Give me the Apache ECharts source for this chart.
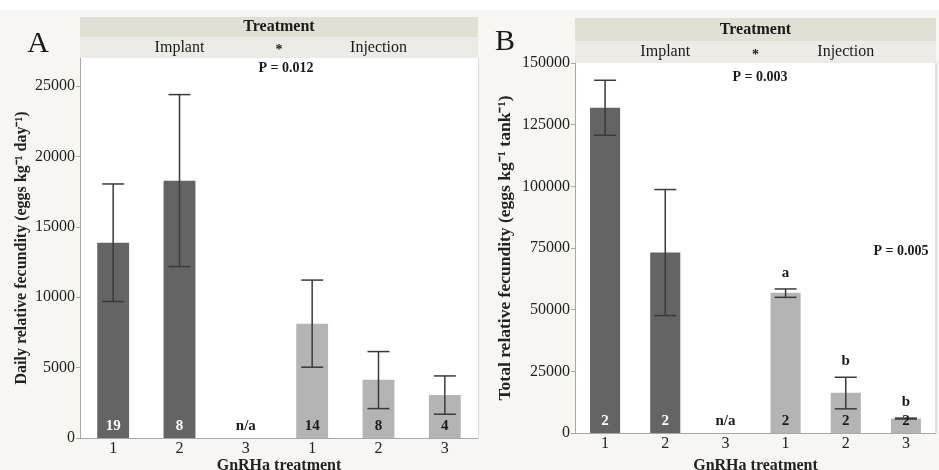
<!DOCTYPE html>
<html>
<head>
<meta charset="utf-8">
<script src="https://cdn.jsdelivr.net/npm/echarts@6/dist/echarts.min.js"></script>
<style>
html,body{margin:0;padding:0;background:#f7f6f2;}
#main{width:939px;height:470px;}
</style>
</head>
<body>
<div id="main"></div>
<script>
// GnRHa dose categories, first three = Implant, last three = Injection
var doseLabels = ['1', '2', '3', '1', '2', '3'];

// panel A: daily relative fecundity (eggs kg-1 day-1)
var dailyMean = [13870, 18280, null, 8110, 4130, 3060];
var dailyLow  = [9700, 12180, null, 5030, 2090, 1690];
var dailyHigh = [18050, 24400, null, 11220, 6140, 4410];
var dailyN    = ['19', '8', 'n/a', '14', '8', '4'];
var dailyTicks = [0, 5000, 10000, 15000, 20000, 25000];

// panel B: total relative fecundity (eggs kg-1 tank-1)
var totalMean = [131900, 73200, null, 56900, 16300, 5850];
var totalLow  = [120700, 47600, null, 55000, 9800, 5650];
var totalHigh = [143000, 98700, null, 58400, 22600, 6050];
var totalN    = ['2', '2', 'n/a', '2', '2', '2'];
var totalLetters = ['', '', '', 'a', 'b', 'b'];
var totalTicks = [0, 25000, 50000, 75000, 100000, 125000, 150000];

var FONT = '"Liberation Serif", "Times New Roman", serif';
var darkBar = '#646464', lightBar = '#b4b4b4';

var chart = echarts.init(document.getElementById('main'));

function barData(vals){
    return vals.map(function(v, i){
        return {value: v, itemStyle: {color: i < 3 ? darkBar : lightBar}};
    });
}

function errData(low, high){
    var out = [];
    for (var i = 0; i < low.length; i++) {
        if (low[i] != null) out.push([i, low[i], high[i]]);
    }
    return out;
}

function renderError(params, api){
    var lo = api.coord([api.value(0), api.value(1)]);
    var hi = api.coord([api.value(0), api.value(2)]);
    var w = 11;
    var st = {stroke: '#3a3a3a', lineWidth: 1.5};
    return {type: 'group', children: [
        {type: 'line', shape: {x1: hi[0], y1: hi[1], x2: lo[0], y2: lo[1]}, style: st},
        {type: 'line', shape: {x1: hi[0] - w, y1: hi[1], x2: hi[0] + w, y2: hi[1]}, style: st},
        {type: 'line', shape: {x1: lo[0] - w, y1: lo[1], x2: lo[0] + w, y2: lo[1]}, style: st}
    ]};
}

function countData(labels){
    return labels.map(function(t, i){ return [i, 0]; });
}

function makeCountRender(labels){
    return function(params, api){
        var i = api.value(0);
        var p = api.coord([i, 0]);
        return {type: 'text', x: p[0], y: p[1] - 12, style: {
            text: labels[i], align: 'center', verticalAlign: 'middle',
            font: 'bold 15px ' + FONT, fill: (i < 2) ? '#ffffff' : '#1a1a1a'
        }};
    };
}

function renderLetter(params, api){
    var i = api.value(0);
    var p = api.coord([i, totalHigh[i]]);
    return {type: 'text', x: p[0], y: p[1] - 16, style: {
        text: totalLetters[i], align: 'center', verticalAlign: 'middle',
        font: 'bold 15px ' + FONT, fill: '#1a1a1a'
    }};
}

function xAxisFor(gridIndex, gap){
    return {
        type: 'category', gridIndex: gridIndex,
        data: doseLabels.map(function(d, i){ return i + ''; }),
        axisLine: {lineStyle: {color: '#a8a8a8'}},
        axisTick: {show: false},
        axisLabel: {color: '#222', fontFamily: FONT, fontSize: 16, margin: 3,
            formatter: function(v){ return doseLabels[+v]; }},
        splitLine: {show: true, interval: function(idx){ return idx === 3; },
            lineStyle: {color: '#dcdcdc', width: 1}},
        name: 'GnRHa treatment', nameLocation: 'middle', nameGap: gap, nameMoveOverlap: false,
        nameTextStyle: {fontFamily: FONT, fontWeight: 'bold', fontSize: 16, color: '#222'}
    };
}

function yAxisFor(gridIndex, max, ticks, name, gap, nameSize){
    return {
        type: 'value', gridIndex: gridIndex, min: 0, max: max,
        axisLine: {show: true, lineStyle: {color: '#a8a8a8'}},
        axisTick: {show: true, length: 4, customValues: ticks, lineStyle: {color: '#a8a8a8'}},
        axisLabel: {color: '#222', fontFamily: FONT, fontSize: 16, margin: 5, customValues: ticks,
            formatter: function(v){ return String(v); }},
        splitLine: {show: false},
        name: name, nameLocation: 'middle', nameGap: gap, nameMoveOverlap: false,
        nameTextStyle: {fontFamily: FONT, fontWeight: 'bold', fontSize: nameSize, color: '#222'}
    };
}

function band(x, y, w, h1, h2){
    return [
        {type: 'rect', shape: {x: x, y: y, width: w, height: h1}, style: {fill: '#e2dfd5'}, silent: true},
        {type: 'rect', shape: {x: x, y: y + h1, width: w, height: h2}, style: {fill: '#ecebe5'}, silent: true},
        {type: 'text', x: x + w / 2, y: y + h1 / 2, style: {text: 'Treatment', align: 'center', verticalAlign: 'middle', font: 'bold 16px ' + FONT, fill: '#1a1a1a'}},
        {type: 'text', x: x + w / 4, y: y + h1 + h2 / 2, style: {text: 'Implant', align: 'center', verticalAlign: 'middle', font: '16px ' + FONT, fill: '#1a1a1a'}},
        {type: 'text', x: x + w * 3 / 4, y: y + h1 + h2 / 2, style: {text: 'Injection', align: 'center', verticalAlign: 'middle', font: '16px ' + FONT, fill: '#1a1a1a'}},
        {type: 'text', x: x + w / 2, y: y + h1 + h2 / 2 + 3, style: {text: '*', align: 'center', verticalAlign: 'middle', font: 'bold 14px ' + FONT, fill: '#1a1a1a'}}
    ];
}

function txt(x, y, t, font){
    return {type: 'text', x: x, y: y, style: {text: t, align: 'center', verticalAlign: 'middle', font: font, fill: '#1a1a1a'}};
}

var graphics = [
    {type: 'rect', shape: {x: 0, y: 0, width: 939, height: 10}, style: {fill: '#ffffff'}, silent: true}
]
.concat(band(80, 17, 398, 20, 21))
.concat(band(575, 18, 361, 23, 22))
.concat([
    txt(38, 44, 'A', '30px ' + FONT),
    txt(505, 42, 'B', '30px ' + FONT),
    txt(286, 68, 'P = 0.012', 'bold 14px ' + FONT),
    txt(760, 77, 'P = 0.003', 'bold 14px ' + FONT),
    txt(901, 251, 'P = 0.005', 'bold 14px ' + FONT),
    {type: 'line', shape: {x1: 936, y1: 63, x2: 936, y2: 433}, style: {stroke: '#c8c8c8', lineWidth: 1}, silent: true}
]);

var option = {
    backgroundColor: '#f7f6f2',
    animation: false,
    grid: [
        {left: 80, top: 58, width: 398, bottom: 32, outerBoundsMode: 'none', show: true, backgroundColor: '#ffffff', borderWidth: 0},
        {left: 575, top: 63, width: 361, bottom: 37, outerBoundsMode: 'none', show: true, backgroundColor: '#ffffff', borderWidth: 0}
    ],
    xAxis: [xAxisFor(0, 20), xAxisFor(1, 25)],
    yAxis: [
        yAxisFor(0, 27000, dailyTicks, 'Daily relative fecundity (eggs kg\u207B\u00B9 day\u207B\u00B9)', 50, 16),
        yAxisFor(1, 150000, totalTicks, 'Total relative fecundity (eggs kg\u207B\u00B9 tank\u207B\u00B9)', 61, 17.5)
    ],
    series: [
        {type: 'bar', xAxisIndex: 0, yAxisIndex: 0, barWidth: '48%', data: barData(dailyMean)},
        {type: 'custom', xAxisIndex: 0, yAxisIndex: 0, renderItem: renderError, data: errData(dailyLow, dailyHigh), z: 5},
        {type: 'custom', xAxisIndex: 0, yAxisIndex: 0, renderItem: makeCountRender(dailyN), data: countData(dailyN), z: 6},
        {type: 'bar', xAxisIndex: 1, yAxisIndex: 1, barWidth: '50%', data: barData(totalMean)},
        {type: 'custom', xAxisIndex: 1, yAxisIndex: 1, renderItem: renderError, data: errData(totalLow, totalHigh), z: 5},
        {type: 'custom', xAxisIndex: 1, yAxisIndex: 1, renderItem: makeCountRender(totalN), data: countData(totalN), z: 6},
        {type: 'custom', xAxisIndex: 1, yAxisIndex: 1, renderItem: renderLetter,
            data: totalLetters.map(function(l, i){ return [i, totalHigh[i] || 0]; }), z: 6}
    ],
    graphic: graphics
};

chart.setOption(option);
</script>
</body>
</html>
